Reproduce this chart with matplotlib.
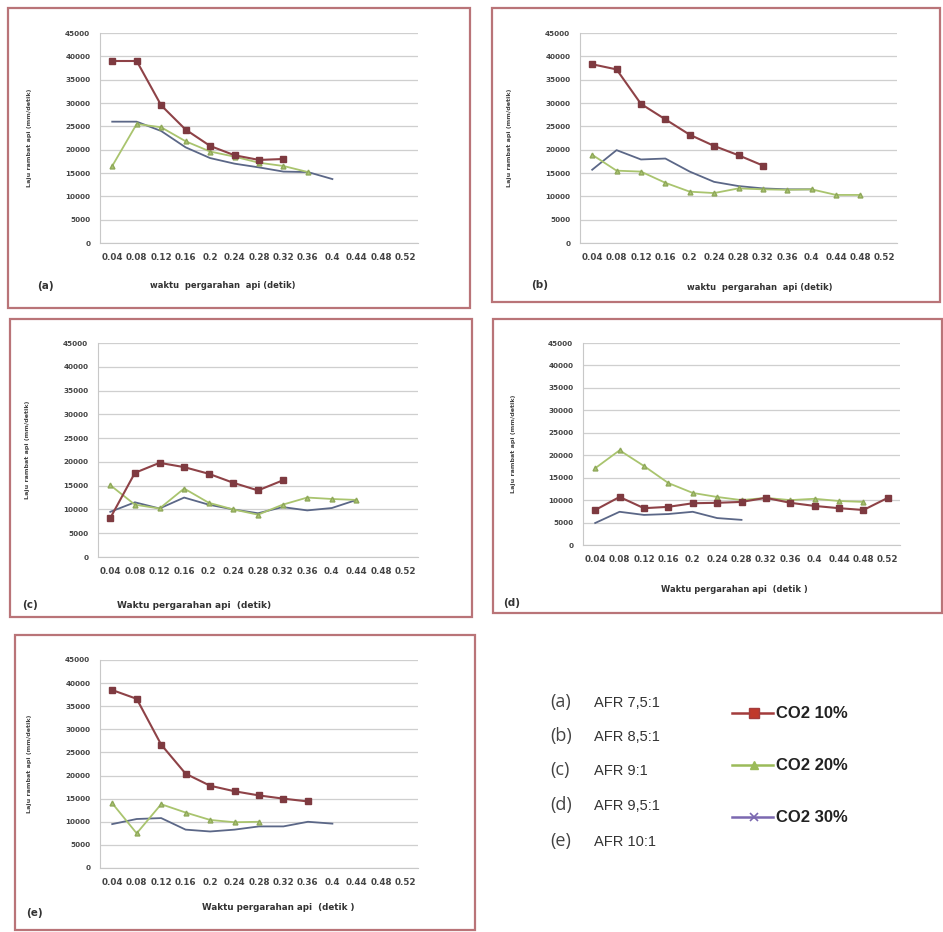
import matplotlib
matplotlib.use("Agg")
import matplotlib.pyplot as plt
from matplotlib.patches import Rectangle
from matplotlib.lines import Line2D

W, H = 943, 932

x_labels = ['0.04', '0.08', '0.12', '0.16', '0.2', '0.24', '0.28', '0.32',
            '0.36', '0.4', '0.44', '0.48', '0.52']
y_ticks = [0, 5000, 10000, 15000, 20000, 25000, 30000, 35000, 40000, 45000]

a_co2_10 = [39000, 39000, 29500, 24300, 20800, 18800, 17800, 18000]
a_co2_20 = [16500, 25500, 24800, 21800, 19600, 18500, 17200, 16500, 15200]
a_co2_30 = [26000, 26000, 24000, 20500, 18200, 17000, 16200, 15300, 15200, 13700]

b_co2_10 = [38300, 37200, 29800, 26500, 23200, 20800, 18800, 16600]
b_co2_20 = [18900, 15500, 15300, 12900, 11000, 10700, 11700, 11500, 11400, 11500, 10300, 10300]
b_co2_30 = [15700, 19900, 17900, 18100, 15300, 13100, 12200, 11700, 11500, 11500]

c_co2_10 = [8200, 17700, 19800, 18900, 17500, 15600, 14000, 16100]
c_co2_20 = [15100, 11000, 10200, 14400, 11400, 10000, 8900, 11000, 12500, 12200, 12000]
c_co2_30 = [9500, 11500, 10200, 12500, 11000, 10000, 9200, 10500, 9800, 10300, 12000]

d_co2_10 = [7800, 10700, 8200, 8500, 9300, 9400, 9600, 10500, 9400, 8700, 8200, 7800, 10500]
d_co2_20 = [17100, 21100, 17600, 13800, 11600, 10700, 10000, 10500, 10000, 10300, 9800, 9600]
d_co2_30 = [4900, 7400, 6700, 6900, 7400, 6000, 5600]

e_co2_10 = [38500, 36600, 26700, 20400, 17800, 16600, 15700, 15000, 14400]
e_co2_20 = [14000, 7500, 13800, 12000, 10400, 9900, 10000]
e_co2_30 = [9500, 10600, 10800, 8300, 7900, 8300, 9000, 9000, 10000, 9600]

panel_tags = ['(a)', '(b)', '(c)', '(d)', '(e)']
afr_labels = ['AFR 7,5:1', 'AFR 8,5:1', 'AFR 9:1', 'AFR 9,5:1', 'AFR 10:1']
series_labels = ['CO2 10%', 'CO2 20%', 'CO2 30%']
y_title = 'Laju rambat api (mm/detik)'
x_titles = ['waktu  pergarahan  api (detik)', 'waktu  pergarahan  api (detik)',
            'Waktu pergarahan api  (detik)', 'Waktu pergarahan api  (detik )',
            'Waktu pergarahan api  (detik )']

RED_LINE = '#8E4247'
RED_MK = '#7E3A40'
GREEN = '#A9C46E'
BLUE = '#5B6787'
BORDER = '#B97478'

fig = plt.figure(figsize=(W / 100, H / 100), dpi=100)
fig.patch.set_facecolor('white')


def fbox(x0, y0, x1, y1):
    return [x0 / W, 1 - y1 / H, (x1 - x0) / W, (y1 - y0) / H]


# panel frames (x0, y0, x1, y1) in pixels
frames = [(8, 8, 470, 308), (492, 8, 940, 302), (10, 319, 472, 617),
          (493, 319, 942, 613), (15, 635, 475, 930)]
plots = [(100, 33, 418, 243), (580, 33, 897, 243), (98, 343, 418, 557),
         (583, 343, 900, 545), (100, 660, 418, 868)]
tag_pos = [(45, 286), (540, 285), (30, 605), (512, 603), (34, 913)]
xt_pos = [(223, 286), (760, 287), (194, 605), (734, 589), (278, 907)]
xt_size = [6.0, 6.0, 6.5, 6.0, 6.3]

data = [(a_co2_10, a_co2_20, a_co2_30), (b_co2_10, b_co2_20, b_co2_30),
        (c_co2_10, c_co2_20, c_co2_30), (d_co2_10, d_co2_20, d_co2_30),
        (e_co2_10, e_co2_20, e_co2_30)]

for i in range(5):
    x0, y0, x1, y1 = frames[i]
    fig.patches.append(Rectangle((x0 / W, 1 - y1 / H), (x1 - x0) / W, (y1 - y0) / H,
                                 transform=fig.transFigure, fill=False,
                                 edgecolor=BORDER, linewidth=1.6))
    ax = fig.add_axes(fbox(*plots[i]))
    s10, s20, s30 = data[i]
    ax.plot(range(len(s30)), s30, color=BLUE, lw=1.3, zorder=3)
    ax.plot(range(len(s20)), s20, color=GREEN, lw=1.3, marker='^', ms=3.5,
            mfc=GREEN, mec='#8FA85A', zorder=4)
    ax.plot(range(len(s10)), s10, color=RED_LINE, lw=1.5, marker='s', ms=4.5,
            mfc=RED_MK, mec=RED_MK, zorder=5)
    ax.set_xlim(-0.5, 12.5)
    ax.set_ylim(0, 45000)
    ax.set_yticks(y_ticks)
    ax.set_yticklabels([str(v) for v in y_ticks], fontsize=5.2, color='#444444',
                       fontweight='bold')
    ax.set_xticks(range(13))
    ax.set_xticklabels(x_labels, fontsize=6.3, color='#444444', fontweight='bold')
    ax.tick_params(axis='both', length=0, pad=7)
    ax.grid(axis='y', color='#CFCFCF', lw=0.9)
    ax.set_axisbelow(True)
    for sp in ['top', 'right']:
        ax.spines[sp].set_visible(False)
    ax.spines['left'].set_color('#C8C8C8')
    ax.spines['bottom'].set_color('#C8C8C8')
    px0, py0, px1, py1 = plots[i]
    fig.text((px0 - 70) / W, 1 - ((py0 + py1) / 2) / H, y_title, rotation=90,
             ha='center', va='center', fontsize=4.6, color='#444444',
             fontweight='bold')
    tx, ty = tag_pos[i]
    fig.text(tx / W, 1 - ty / H, panel_tags[i], ha='center', va='center',
             fontsize=7.5, color='#333333', fontweight='bold')
    xx, xy = xt_pos[i]
    fig.text(xx / W, 1 - xy / H, x_titles[i], ha='center', va='center',
             fontsize=xt_size[i], color='#333333', fontweight='bold')

# legend area
narrow = ['Liberation Sans Narrow', 'Liberation Sans', 'DejaVu Sans']
rows_y = [702, 736, 770, 805, 841]
for k in range(5):
    fig.text(550 / W, 1 - rows_y[k] / H, panel_tags[k], ha='left', va='center',
             fontsize=13, color='#444444', family=['Open Sans', 'DejaVu Sans'])
    fig.text(594 / W, 1 - (rows_y[k] + 1) / H, afr_labels[k], ha='left', va='center',
             fontsize=10.5, color='#333333', family=narrow)

leg_y = [713, 765, 817]
leg_styles = [dict(color='#A33C3C', marker='s', ms=7, mfc='#C0392B', mec='#A33C3C'),
              dict(color='#9BBB59', marker='^', ms=6, mfc='#9BBB59', mec='#9BBB59'),
              dict(color='#7B68B0', marker='x', ms=6, mew=1.2)]
for k in range(3):
    yy = 1 - leg_y[k] / H
    fig.add_artist(Line2D([732 / W, 773 / W], [yy, yy], lw=1.8,
                          transform=fig.transFigure, **{kk: vv for kk, vv in leg_styles[k].items() if kk not in ('marker', 'ms', 'mfc', 'mec', 'mew')}))
    fig.add_artist(Line2D([754 / W], [yy], lw=0, transform=fig.transFigure,
                          **leg_styles[k]))
    fig.text(776 / W, yy, series_labels[k], ha='left', va='center', fontsize=12,
             color='#222222', fontweight='bold', family=narrow)

fig.savefig('out.png', dpi=100, facecolor='white')
